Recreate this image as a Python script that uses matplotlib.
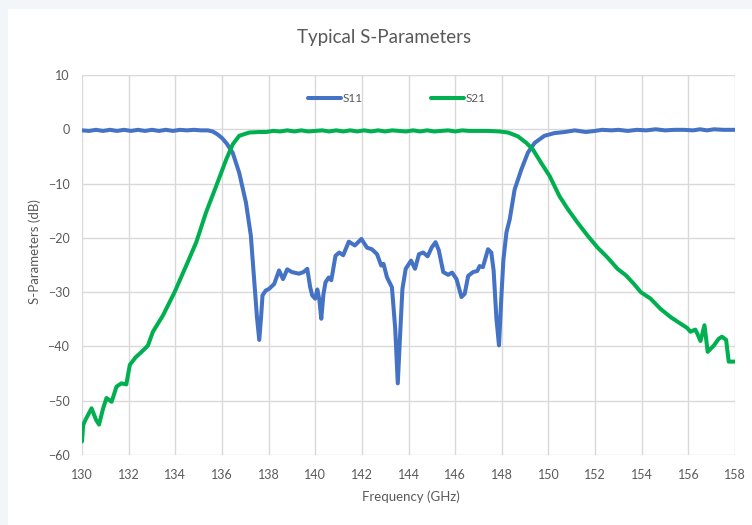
import matplotlib
matplotlib.use("Agg")
import matplotlib.pyplot as plt
from matplotlib.patches import Rectangle

# S11 (return loss)
s11_freq = [130.0, 130.3, 130.6, 130.9, 131.2, 131.5, 131.8, 132.1, 132.4, 132.7,
            133.0, 133.3, 133.6, 133.9, 134.2, 134.5, 134.8, 135.1, 135.4, 135.6,
            135.8, 136.0, 136.2, 136.46, 136.74, 137.03, 137.24, 137.38, 137.5, 137.6,
            137.68, 137.74, 137.88, 138.02, 138.24, 138.45, 138.62, 138.8, 139.0, 139.3,
            139.5, 139.66, 139.78, 139.87, 140.0, 140.09, 140.18, 140.26, 140.35, 140.44,
            140.58, 140.69, 140.87, 141.03, 141.2, 141.44, 141.7, 141.98, 142.22, 142.43,
            142.65, 142.83, 142.93, 143.08, 143.29, 143.43, 143.54, 143.64, 143.74, 143.88,
            144.11, 144.28, 144.45, 144.63, 144.82, 144.99, 145.16, 145.3, 145.49, 145.7,
            145.87, 146.06, 146.27, 146.41, 146.56, 146.77, 146.95, 147.05, 147.19, 147.41,
            147.55, 147.65, 147.77, 147.88, 147.98, 148.07, 148.2, 148.34, 148.55, 148.84,
            149.12, 149.41, 149.83, 150.26, 150.7, 151.13, 151.6, 152.0, 152.3, 152.7,
            153.0, 153.4, 153.8, 154.2, 154.6, 155.0, 155.4, 155.8, 156.2, 156.5,
            156.8, 157.1, 157.5, 158.0]
s11_db = [-0.2, -0.3, -0.1, -0.3, -0.1, -0.3, -0.1, -0.3, -0.1, -0.3,
          -0.1, -0.3, -0.1, -0.3, -0.1, -0.2, -0.1, -0.2, -0.2, -0.4,
          -0.9, -1.6, -2.6, -4.3, -8.0, -13.5, -19.6, -27.6, -34.5, -38.8,
          -34.5, -30.6, -29.7, -29.4, -28.5, -26.0, -27.6, -25.8, -26.3, -26.6,
          -26.3, -25.7, -29.0, -30.6, -31.2, -29.5, -31.5, -34.9, -30.5, -28.2,
          -27.3, -27.8, -23.3, -22.7, -23.2, -20.7, -21.4, -20.2, -21.8, -22.1,
          -23.0, -25.1, -24.8, -27.3, -29.1, -36.7, -46.8, -37.9, -29.4, -25.7,
          -24.2, -25.7, -23.0, -22.7, -23.4, -21.8, -20.8, -22.3, -26.3, -26.8,
          -26.4, -27.6, -30.9, -30.3, -27.0, -26.3, -26.1, -25.2, -25.4, -22.1,
          -22.7, -26.0, -34.9, -39.8, -31.0, -24.0, -19.0, -16.6, -11.1, -7.4,
          -4.3, -2.5, -1.2, -0.7, -0.5, -0.2, -0.5, -0.3, -0.1, -0.2,
          -0.1, -0.3, -0.1, -0.2, 0.0, -0.2, -0.1, -0.1, -0.2, 0.0,
          -0.2, 0.0, -0.1, -0.1]

# S21 (insertion loss)
s21_freq = [130.0, 130.05, 130.15, 130.41, 130.6, 130.73, 130.9, 131.05, 131.27, 131.48,
            131.69, 131.9, 132.05, 132.3, 132.48, 132.7, 132.83, 133.04, 133.47, 133.97,
            134.47, 134.9, 135.32, 135.75, 136.18, 136.46, 136.74, 137.17, 137.6, 137.9,
            138.2, 138.5, 138.8, 139.1, 139.4, 139.7, 140.0, 140.3, 140.6, 140.9,
            141.2, 141.5, 141.8, 142.1, 142.4, 142.7, 143.0, 143.3, 143.6, 143.9,
            144.2, 144.5, 144.8, 145.1, 145.4, 145.7, 146.0, 146.3, 146.6, 147.0,
            147.41, 147.9, 148.27, 148.69, 149.05, 149.33, 149.69, 150.05, 150.47, 150.83,
            151.25, 151.68, 152.11, 152.53, 152.96, 153.32, 153.67, 153.96, 154.38, 154.81,
            155.24, 155.66, 155.95, 156.09, 156.3, 156.4, 156.52, 156.69, 156.83, 157.1,
            157.3, 157.44, 157.62, 157.73, 158.0]
s21_db = [-57.5, -54.5, -53.5, -51.4, -53.5, -54.4, -51.5, -49.5, -50.2, -47.4,
          -46.8, -47.0, -43.4, -42.0, -41.3, -40.4, -39.8, -37.3, -34.3, -30.0,
          -25.1, -20.8, -15.3, -10.5, -5.6, -2.8, -1.2, -0.6, -0.5, -0.5,
          -0.3, -0.4, -0.2, -0.4, -0.2, -0.4, -0.3, -0.2, -0.4, -0.2,
          -0.4, -0.2, -0.4, -0.2, -0.4, -0.2, -0.4, -0.2, -0.3, -0.4,
          -0.2, -0.4, -0.2, -0.4, -0.3, -0.2, -0.4, -0.2, -0.3, -0.3,
          -0.3, -0.4, -0.6, -1.3, -2.5, -3.7, -6.2, -8.6, -12.3, -14.7,
          -17.2, -19.6, -21.8, -23.6, -25.7, -26.9, -28.5, -30.0, -31.2, -33.1,
          -34.6, -35.8, -36.6, -37.3, -36.9, -37.8, -39.0, -36.1, -41.0, -39.8,
          -38.6, -38.2, -38.8, -42.8, -42.8]

x_ticks = list(range(130, 159, 2))
y_ticks = list(range(-60, 11, 10))

plt.rcParams['font.family'] = ['Lato', 'DejaVu Sans']
grey_text = '#595959'
grid_col = '#d9d9d9'

fig = plt.figure(figsize=(7.52, 5.25), dpi=100)
fig.patch.set_facecolor('white')
# light border strip of the screenshot (left and top)
fig.patches.append(Rectangle((0, 0), 8 / 752, 1, transform=fig.transFigure,
                             facecolor='#f3f6f8', edgecolor='none', zorder=-1))
fig.patches.append(Rectangle((0, 1 - 9 / 525), 1, 9 / 525, transform=fig.transFigure,
                             facecolor='#f3f6f8', edgecolor='none', zorder=-1))

ax = fig.add_axes([82 / 752, 1 - 455 / 525, (735 - 82) / 752, (455 - 75) / 525])

ax.plot(s11_freq, s11_db, color='#4472C4', lw=2.9, label='S11',
        solid_joinstyle='round', solid_capstyle='round')
ax.plot(s21_freq, s21_db, color='#00B050', lw=2.9, label='S21',
        solid_joinstyle='round', solid_capstyle='round')

ax.set_xlim(130, 158)
ax.set_ylim(-60, 10)
ax.set_xticks(x_ticks)
ax.set_yticks(y_ticks)
ax.grid(True, color=grid_col, lw=1.0)
ax.set_axisbelow(True)
for s in ax.spines.values():
    s.set_visible(False)
ax.tick_params(length=0, labelsize=9, labelcolor=grey_text)
ax.tick_params(axis='x', pad=10)
ax.tick_params(axis='y', pad=9)

fig.text(384 / 752, 1 - 38 / 525, 'Typical S-Parameters', ha='center', va='center',
         fontsize=13.5, color=grey_text)
fig.text(411 / 752, 1 - 497 / 525, 'Frequency (GHz)', ha='center', va='center',
         fontsize=9.5, color=grey_text)
fig.text(35 / 752, 1 - 252 / 525, 'S-Parameters (dB)', ha='center', va='center',
         rotation=90, fontsize=9.5, color=grey_text)

leg = ax.legend(loc='center', bbox_to_anchor=(0.482, 0.937), ncol=2, frameon=False,
                fontsize=8.5, handlelength=2.8, handletextpad=0.15, columnspacing=5.8)
for t in leg.get_texts():
    t.set_color(grey_text)

fig.savefig('out.png', dpi=100)
